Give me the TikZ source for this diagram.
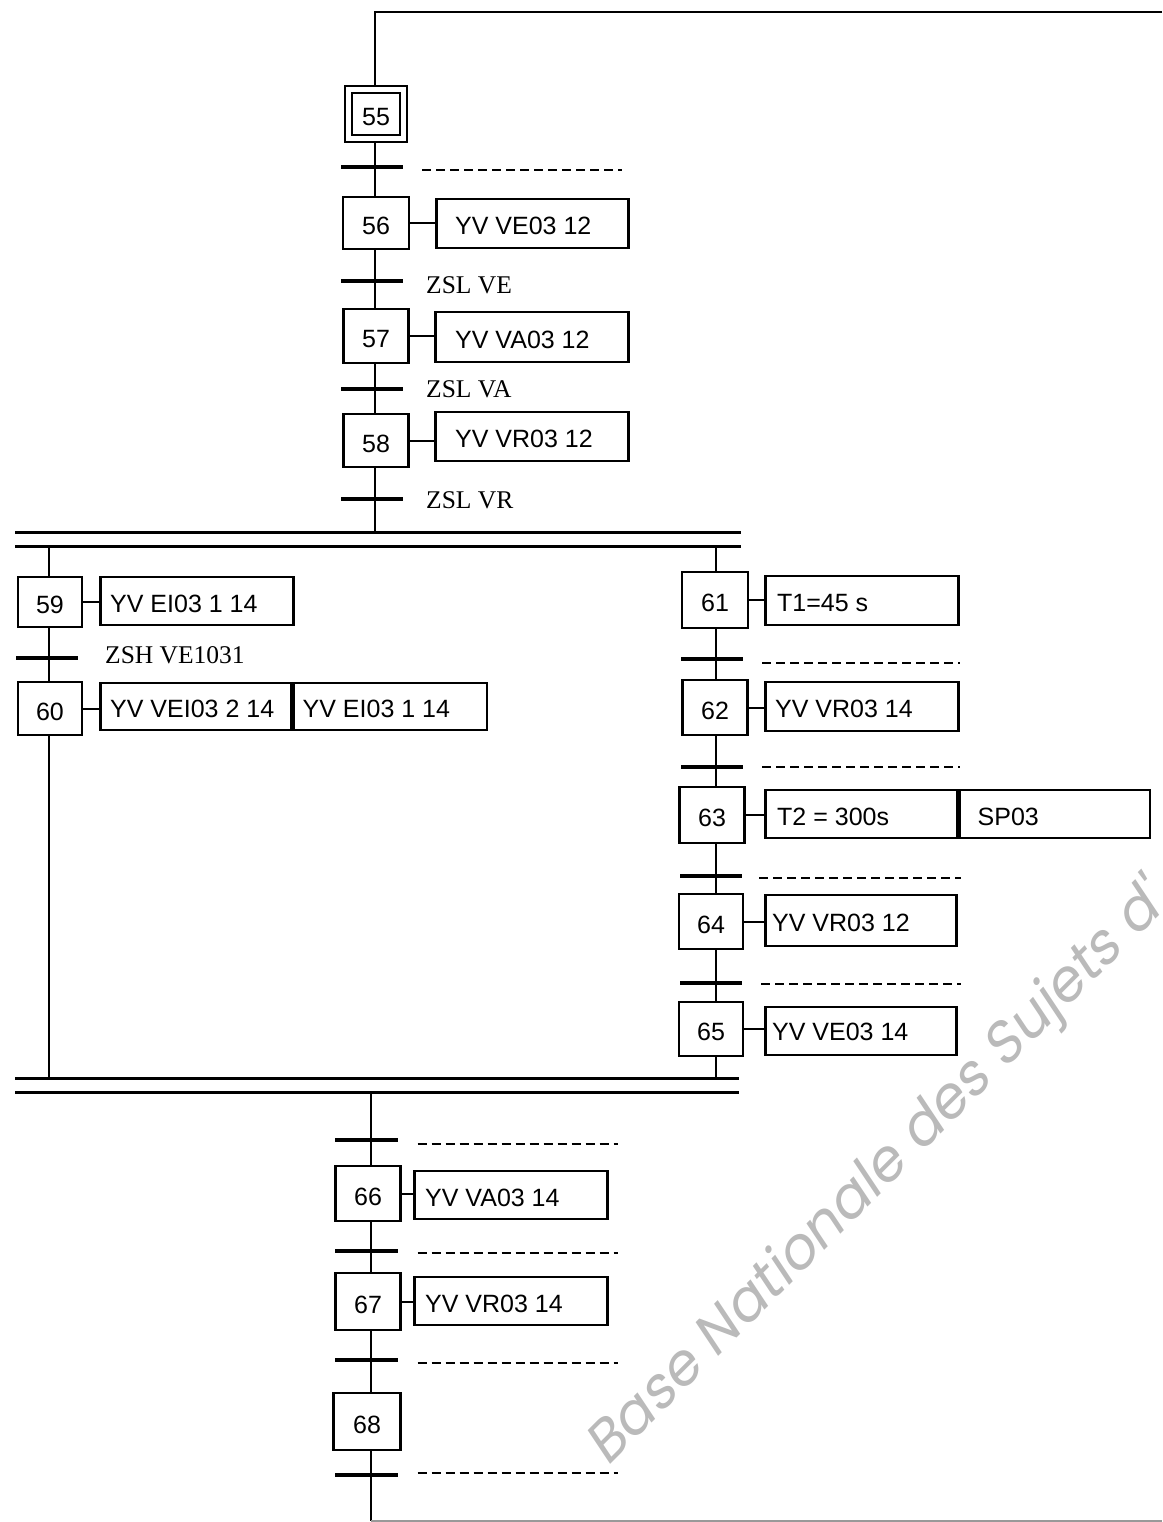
\documentclass[tikz,border=0pt]{standalone}
\usepackage{fontspec}
\setmainfont{Liberation Sans}
\newfontfamily\tnr{Liberation Serif}
\newfontfamily\wmfont[FakeSlant=0.2]{Poppins}
\usetikzlibrary{calc}
\tikzset{
  stepbox/.style={draw, line width=2.5pt, inner sep=0pt, text height=23pt, text depth=0pt, font=\fontsize{25}{28}\selectfont},
  actbox/.style={draw, line width=2.5pt, anchor=west, inner sep=0pt},
  acttxt/.style={anchor=west, inner sep=0pt, text height=18pt, text depth=0pt, font=\fontsize{25}{28}\selectfont},
  trbar/.style={fill=black, minimum height=3.5pt, inner sep=0pt},
  link/.style={line width=2pt},
  dbar/.style={line width=3pt},
  rec/.style={line width=2pt, dash pattern=on 9pt off 5pt},
  cond/.style={anchor=base west, inner sep=0pt, font=\tnr\fontsize{25.5}{28}\selectfont},
}
\begin{document}
\begin{tikzpicture}[x=1pt,y=-1pt]
\useasboundingbox (0,0) rectangle (1162,1522);
% watermark
\begin{scope}
\clip (0,0) rectangle (1162,1522);
\node[rotate=45, anchor=base west, inner sep=0pt, text=black!27, font=\wmfont\fontsize{57}{60}\selectfont] (wm) at (607,1468) {Base Nationale des Sujets d'};
\end{scope}
% column coordinates
\coordinate (ctop) at (375,12);
\coordinate (ctopR) at (1162,12);
\coordinate (cjoin) at (375,532);
\coordinate (d1L) at (15,532); \coordinate (d1R) at (741,532);
\coordinate (d2L) at (15,546); \coordinate (d2R) at (741,546);
\coordinate (ltop) at (49,546); \coordinate (lbot) at (49,1078);
\coordinate (rtop) at (716,546); \coordinate (rbot) at (716,1078);
\coordinate (e1L) at (15,1078); \coordinate (e1R) at (739,1078);
\coordinate (e2L) at (15,1092); \coordinate (e2R) at (739,1092);
\coordinate (btop) at (371,1092); \coordinate (bbot) at (371,1521);
\coordinate (bbotR) at (1162,1521);
% steps
\node[stepbox, minimum width=62pt, minimum height=56pt] (s55o) at (376,114) {};
\node[stepbox, minimum width=48pt, minimum height=42pt] (s55) at (376,114) {55};
\node[stepbox, minimum width=66pt, minimum height=52pt] (s56) at (376,223) {56};
\node[stepbox, minimum width=65pt, minimum height=54pt] (s57) at (376,336) {57};
\node[stepbox, minimum width=65pt, minimum height=53pt] (s58) at (376,440.5) {58};
\node[stepbox, minimum width=64pt, minimum height=50pt] (s59) at (50,602) {59};
\node[stepbox, minimum width=64pt, minimum height=53pt] (s60) at (50,708.5) {60};
\node[stepbox, minimum width=66pt, minimum height=56pt] (s61) at (715,600) {61};
\node[stepbox, minimum width=65pt, minimum height=55pt] (s62) at (715,707.5) {62};
\node[stepbox, minimum width=65pt, minimum height=56pt] (s63) at (712,815) {63};
\node[stepbox, minimum width=64pt, minimum height=55pt] (s64) at (711,921.5) {64};
\node[stepbox, minimum width=64pt, minimum height=54pt] (s65) at (711,1029) {65};
\node[stepbox, minimum width=65pt, minimum height=55pt] (s66) at (368,1193.5) {66};
\node[stepbox, minimum width=65pt, minimum height=57pt] (s67) at (368,1301.5) {67};
\node[stepbox, minimum width=67pt, minimum height=57pt] (s68) at (367,1421.5) {68};
% vertical links
\draw[link] (ctopR) -- (ctop) -- (ctop |- s55o.north);
\draw[link] (ctop |- s55o.south) -- (ctop |- s56.north);
\draw[link] (ctop |- s56.south) -- (ctop |- s57.north);
\draw[link] (ctop |- s57.south) -- (ctop |- s58.north);
\draw[link] (ctop |- s58.south) -- (cjoin);
\draw[link] (ltop) -- (ltop |- s59.north);
\draw[link] (ltop |- s59.south) -- (ltop |- s60.north);
\draw[link] (ltop |- s60.south) -- (lbot);
\draw[link] (rtop) -- (rtop |- s61.north);
\draw[link] (rtop |- s61.south) -- (rtop |- s62.north);
\draw[link] (rtop |- s62.south) -- (rtop |- s63.north);
\draw[link] (rtop |- s63.south) -- (rtop |- s64.north);
\draw[link] (rtop |- s64.south) -- (rtop |- s65.north);
\draw[link] (rtop |- s65.south) -- (rbot);
\draw[link] (btop) -- (btop |- s66.north);
\draw[link] (btop |- s66.south) -- (btop |- s67.north);
\draw[link] (btop |- s67.south) -- (btop |- s68.north);
\draw[link] (btop |- s68.south) -- (bbot);
\draw[link, black!40] (bbot) -- (bbotR);
% double bars
\draw[dbar] (d1L) -- (d1R);
\draw[dbar] (d2L) -- (d2R);
\draw[dbar] (e1L) -- (e1R);
\draw[dbar] (e2L) -- (e2R);
% transitions
\node[trbar, minimum width=62pt] (t55) at (372,167) {};
\node[trbar, minimum width=62pt] (t56) at (372,281) {};
\node[trbar, minimum width=62pt] (t57) at (372,389) {};
\node[trbar, minimum width=62pt] (t58) at (372,499) {};
\node[trbar, minimum width=62pt] (t59) at (47,658) {};
\node[trbar, minimum width=62pt] (t61) at (712,659) {};
\node[trbar, minimum width=62pt] (t62) at (712,767) {};
\node[trbar, minimum width=62pt] (t63) at (711,876) {};
\node[trbar, minimum width=62pt] (t64) at (711,983) {};
\node[trbar, minimum width=63pt] (t65) at (366,1140) {};
\node[trbar, minimum width=63pt] (t66) at (366,1251) {};
\node[trbar, minimum width=63pt] (t67) at (366,1360) {};
\node[trbar, minimum width=63pt] (t68) at (366,1475) {};
% receptivities
\node[cond] (c56) at (426,293) {ZSL VE};
\node[cond] (c57) at (426,397) {ZSL VA};
\node[cond] (c58) at (426,508) {ZSL VR};
\node[cond] (c59) at (105,663) {ZSH VE1031};
\draw[rec] ($(t55.east)+(19,3)$) -- ++(200,0);
\draw[rec] ($(t61.east)+(19,4)$) -- ++(198,0);
\draw[rec] ($(t62.east)+(19,0)$) -- ++(198,0);
\draw[rec] ($(t63.east)+(17,2)$) -- ++(202,0);
\draw[rec] ($(t64.east)+(19,1)$) -- ++(200,0);
\draw[rec] ($(t65.east)+(20,4)$) -- ++(200,0);
\draw[rec] ($(t66.east)+(20,2)$) -- ++(200,0);
\draw[rec] ($(t67.east)+(20,3)$) -- ++(200,0);
\draw[rec] ($(t68.east)+(20,-2)$) -- ++(200,0);
% actions
\node[actbox, minimum width=192pt, minimum height=49pt] (a56) at (435,223.5) {};
\node[acttxt] (a56t) at ($(a56.west)+(20,2)$) {YV VE03 12};
\node[actbox, minimum width=193pt, minimum height=50pt] (a57) at (434,337) {};
\node[acttxt] (a57t) at ($(a57.west)+(21,2)$) {YV VA03 12};
\node[actbox, minimum width=193pt, minimum height=49pt] (a58) at (434,436.5) {};
\node[acttxt] (a58t) at ($(a58.west)+(21,2)$) {YV VR03 12};
\node[actbox, minimum width=193pt, minimum height=48pt] (a59) at (99,601) {};
\node[acttxt] (a59t) at ($(a59.west)+(11,2)$) {YV EI03 1 14};
\node[actbox, minimum width=191pt, minimum height=47pt] (a60a) at (99,706.5) {};
\node[acttxt] (a60at) at ($(a60a.west)+(11,2)$) {YV VEI03 2 14};
\node[actbox, minimum width=193pt, minimum height=47pt] (a60b) at (a60a.east) {};
\node[acttxt] (a60bt) at ($(a60b.west)+(10,2)$) {YV EI03 1 14};
\node[actbox, minimum width=193pt, minimum height=49pt] (a61) at (764,600.5) {};
\node[acttxt] (a61t) at ($(a61.west)+(13,2)$) {T1=45 s};
\node[actbox, minimum width=193pt, minimum height=49pt] (a62) at (764,706.5) {};
\node[acttxt] (a62t) at ($(a62.west)+(11,2)$) {YV VR03 14};
\node[actbox, minimum width=192pt, minimum height=48pt] (a63a) at (764,814) {};
\node[acttxt] (a63at) at ($(a63a.west)+(13,2)$) {T2 = 300s};
\node[actbox, minimum width=190pt, minimum height=48pt] (a63b) at (a63a.east) {};
\node[acttxt] (a63bt) at ($(a63b.west)+(19,2)$) {SP03};
\node[actbox, minimum width=191pt, minimum height=51pt] (a64) at (764,920.5) {};
\node[acttxt] (a64t) at ($(a64.west)+(8,2)$) {YV VR03 12};
\node[actbox, minimum width=191pt, minimum height=48pt] (a65) at (764,1031) {};
\node[acttxt] (a65t) at ($(a65.west)+(8,0)$) {YV VE03 14};
\node[actbox, minimum width=193pt, minimum height=48pt] (a66) at (413,1195) {};
\node[acttxt] (a66t) at ($(a66.west)+(12,2)$) {YV VA03 14};
\node[actbox, minimum width=193pt, minimum height=48pt] (a67) at (413,1301) {};
\node[acttxt] (a67t) at ($(a67.west)+(12,2)$) {YV VR03 14};
% step-action links
\foreach \s/\a in {s56/a56, s57/a57, s58/a58, s59/a59, s60/a60a, s61/a61, s62/a62, s63/a63a, s64/a64, s65/a65, s66/a66, s67/a67}
  \draw[link] (\s.east) -- (\s.east -| \a.west);
\end{tikzpicture}
\end{document}
